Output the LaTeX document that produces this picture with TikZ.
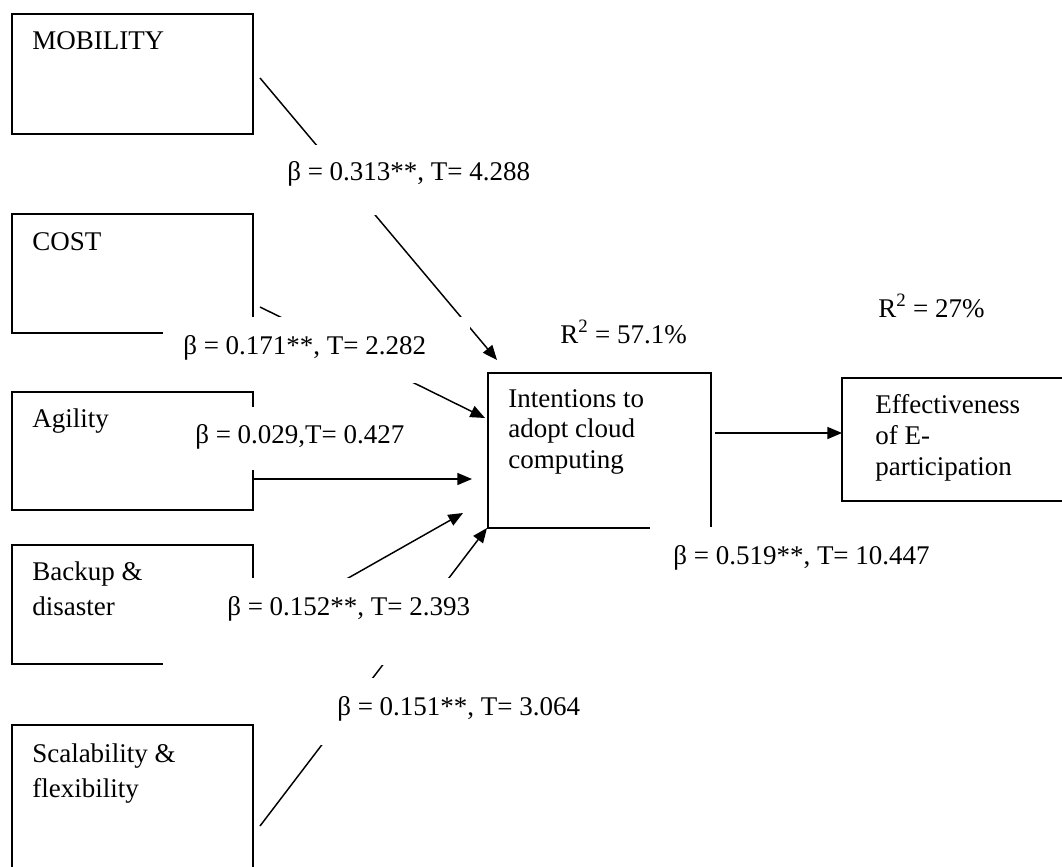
\documentclass[tikz,border=0pt]{standalone}
\usepackage{fontspec}
\setmainfont{Liberation Serif}
\usetikzlibrary{arrows.meta,fit}
\begin{document}
\begin{tikzpicture}[x=0.75pt,y=-0.75pt,
  box/.style={draw, line width=1.4pt, inner sep=0pt},
  wbox/.style={fill=white, draw=none, inner sep=0pt},
  txt/.style={anchor=base west, inner sep=0pt, font=\fontsize{20.25}{23}\selectfont},
  conn/.style={line width=1.1pt, -{Triangle[length=11pt,width=9pt]}},
  plain/.style={line width=1.1pt}
]
\useasboundingbox (0,0) rectangle (1062,866);
\fill[white] (0,0) rectangle (1062,866);
\clip (0,0) rectangle (1062,866);

% construct boxes
\node[box, fit={(12,14)(253,134)}] (mob) {};
\node[box, fit={(12,214)(253,333)}] (cost) {};
\node[box, fit={(12,392)(253,510)}] (agil) {};
\node[box, fit={(12,545)(253,664)}] (back) {};
\node[box, fit={(12,725)(253,900)}] (scal) {};
\node[box, fit={(488,373)(711,528)}] (int) {};
\node[box, fit={(842,378)(1100,501)}] (eff) {};

% box texts
\node[txt] (tmob) at (32,50) {MOBILITY};
\node[txt] (tcost) at (32,250) {COST};
\node[txt] (tagil) at (32,427) {Agility};
\node[txt] (tback) at (32,580) {\vtop{\baselineskip=26.25pt\hbox{Backup \&}\hbox{disaster}}};
\node[txt] (tscal) at (32,762) {\vtop{\baselineskip=26.25pt\hbox{Scalability \&}\hbox{flexibility}}};
\node[txt] (tint) at (508,407) {\vtop{\baselineskip=22.9pt\hbox{Intentions to}\hbox{adopt cloud}\hbox{computing}}};
\node[txt] (teff) at (875,413) {\vtop{\baselineskip=23.25pt\hbox{Effectiveness}\hbox{of E-}\hbox{participation}}};

% connector end points
\coordinate (m0) at (260,78);  \coordinate (m1) at (497,360);
\coordinate (c0) at (260,307); \coordinate (c1) at (485,418);
\coordinate (a0) at (253,479); \coordinate (a1) at (472,479);
\coordinate (b0) at (260,628); \coordinate (b1) at (463,513);
\coordinate (s0) at (260,826); \coordinate (s1) at (487,528);
\coordinate (i0) at (715,433); \coordinate (i1) at (842,433);

\draw[conn] (m0) -- (m1);
\draw[conn] (c0) -- (c1);
\draw[conn] (a0) -- (a1);
\draw[conn] (b0) -- (b1);
\draw[conn] (s0) -- (s1);
\draw[conn] (i0) -- (i1);

% white label boxes
\node[wbox, fit={(270,145)(545,215)}] (w313) {};
\node[wbox, fit={(163,317)(470,383)}] (w171) {};
\node[wbox, fit={(180,407)(450,470)}] (w029) {};
\node[wbox, fit={(163,578)(478,665)}] (w152) {};
\node[wbox, fit={(300,678)(600,745)}] (w151) {};
\node[wbox, fit={(650,527)(940,590)}] (w519) {};

% labels
\node[txt] (l313) at (287,181) {β = 0.313**, T= 4.288};
\node[txt] (l171) at (183,354) {β = 0.171**, T= 2.282};
\node[txt] (l029) at (195,443) {β = 0.029,T= 0.427};
\node[txt] (l152) at (227,615) {β = 0.152**, T= 2.393};
\node[txt] (l151) at (337,715) {β = 0.151**, T= 3.064};
\node[txt] (l519) at (673,564) {β = 0.519**, T= 10.447};
\node[txt] (r571) at (560,343) {R\textsuperscript{2} = 57.1\%};
\node[txt] (r27) at (878,317) {R\textsuperscript{2} = 27\%};
\end{tikzpicture}
\end{document}
